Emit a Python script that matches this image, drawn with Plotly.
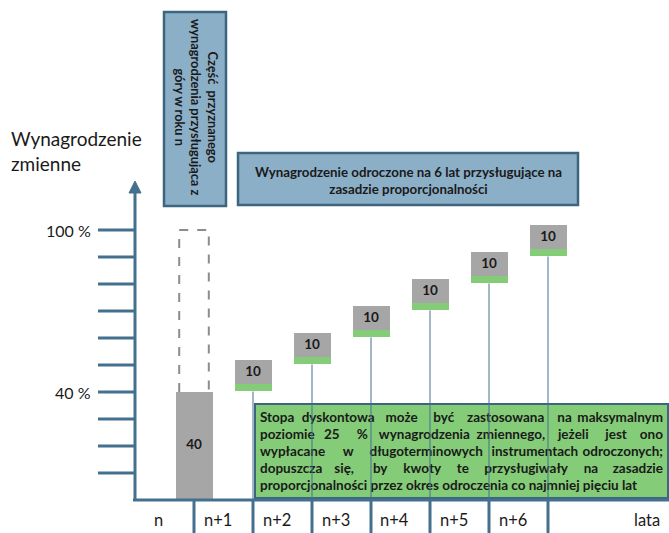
import plotly.graph_objects as go

# ---------------- data ----------------
years = ["n", "n+1", "n+2", "n+3", "n+4", "n+5", "n+6"]
initial_share = 40            # paid out up-front in year n
deferred_shares = [10, 10, 10, 10, 10, 10]   # deferred parts n+1 .. n+6
total_share = 100
tick_values = [10, 20, 30, 40, 50, 60, 70, 80, 90, 100]
tick_labels = {100: "100 %", 40: "40 %"}
axis_title = ["Wynagrodzenie", "zmienne"]
x_end_label = "lata"
upfront_box_lines = ["Część  przyznanego", "wynagrodzenia przysługująca z", "góry w roku n"]
deferred_box_lines = ["Wynagrodzenie odroczone na 6 lat przysługujące na", "zasadzie proporcjonalności"]
note_lines = [
    "Stopa dyskontowa może być zastosowana na maksymalnym",
    "poziomie 25 % wynagrodzenia zmiennego, jeżeli jest ono",
    "wypłacane w długoterminowych instrumentach odroczonych;",
    "dopuszcza się, by kwoty te przysługiwały na zasadzie",
    "proporcjonalności przez okres odroczenia co najmniej pięciu lat",
]

# ---------------- styling ----------------
W, H = 669, 533
AX = "#44708f"
BLUE_FILL = "#8cafc8"
BLUE_LINE = "#3e6580"
GREEN = "#84cc78"
GRAY = "#a6a6a6"
DASH = "#8c8c8c"
TXT = "#1a1a1a"
FONT = "Lato"

def X(px):  # pixel -> data x
    return (px - 135) / 59.0

def Y(py):  # pixel -> data y (percent)
    return (500 - py) / 2.7

XMIN, XMAX = X(0), X(W)
YMIN, YMAX = Y(H), Y(0)
BAR_W = 37 / 59.0

fig = go.Figure()
shapes = []
annotations = []

# --- bars ---
fig.add_trace(go.Bar(x=[1], y=[initial_share], base=[0], width=[BAR_W],
                     marker=dict(color=GRAY, line=dict(width=0)), hoverinfo="skip"))
cum = [initial_share]
for v in deferred_shares[:-1]:
    cum.append(cum[-1] + v)
xs_def = [i + 2 for i in range(len(deferred_shares))]
green_h = 2.6
fig.add_trace(go.Bar(x=xs_def, y=[green_h] * len(xs_def), base=[c + 0.2 for c in cum],
                     width=[BAR_W] * len(xs_def),
                     marker=dict(color=GREEN, line=dict(width=0)), hoverinfo="skip"))
gray_h = [v * 0.9 for v in deferred_shares]
gray_base = [c + 0.2 + green_h for c in cum]
fig.add_trace(go.Bar(x=xs_def, y=gray_h, base=gray_base, width=[BAR_W] * len(xs_def),
                     marker=dict(color=GRAY, line=dict(width=0)), hoverinfo="skip"))
# labels in boxes
fig.add_trace(go.Scatter(
    x=[1] + xs_def,
    y=[initial_share / 2] + [b + h / 2 for b, h in zip(gray_base, gray_h)],
    text=["<b>%d</b>" % initial_share] + ["<b>%d</b>" % v for v in deferred_shares],
    mode="text", textfont=dict(family=FONT, size=13.5, color=TXT), hoverinfo="skip"))

# --- dashed outline for the full 100 % ---
x0, x1 = 1 - BAR_W * 0.4, 1 + BAR_W * 0.4
shapes.append(dict(type="path", xref="x", yref="y", layer="below",
                   path=f"M {x0},{initial_share} L {x0},{total_share} L {x1},{total_share} L {x1},{initial_share}",
                   line=dict(color=DASH, width=2, dash="dash")))

# --- green note box ---
shapes.append(dict(type="rect", xref="x", yref="y", layer="below",
                   x0=X(255), x1=X(668), y0=Y(498), y1=Y(404),
                   fillcolor=GREEN, line=dict(color=BLUE_LINE, width=2)))

def cw(ch):
    if ch in "iljtfrI.,;:!'|":
        r = 0.30
    elif ch in "mwM%W":
        r = 0.84
    elif ch == " ":
        r = 0.26
    elif ch.isupper():
        r = 0.64
    elif ch.isdigit():
        r = 0.58
    else:
        r = 0.55
    return r * 0.81

NOTE_SIZE = 13.5
left_px, right_px = 260, 663
wx, wy, wt, wp = [], [], [], []
for li, line in enumerate(note_lines):
    py = 419 + li * 17
    words = line.split(" ")
    if li < len(note_lines) - 1:
        widths = [sum(cw(c) for c in w) * NOTE_SIZE for w in words]
        gap = (right_px - left_px - sum(widths)) / (len(words) - 1)
        pos = left_px
        for k, (w, wd) in enumerate(zip(words, widths)):
            if k == 0:
                wx.append(X(pos)); wp.append("middle right")
            elif k == len(words) - 1:
                wx.append(X(right_px)); wp.append("middle left")
            else:
                wx.append(X(pos + wd / 2)); wp.append("middle center")
            wy.append(Y(py)); wt.append("<b>%s</b>" % w)
            pos += wd + gap
    else:
        wx.append(X(left_px)); wy.append(Y(py)); wt.append("<b>%s</b>" % line); wp.append("middle right")
fig.add_trace(go.Scatter(x=wx, y=wy, text=wt, textposition=wp, mode="text",
                         textfont=dict(family=FONT, size=NOTE_SIZE, color=TXT), hoverinfo="skip"))

# --- pins from deferred boxes down to baseline ---
for xv, c in zip(xs_def, cum):
    shapes.append(dict(type="line", xref="x", yref="y", layer="above",
                       x0=xv, x1=xv, y0=0, y1=c + 0.2, line=dict(color=AX, width=1)))

# --- axes ---
shapes.append(dict(type="line", xref="x", yref="y", layer="above",
                   x0=X(133), x1=X(669), y0=0, y1=0, line=dict(color=AX, width=3)))
shapes.append(dict(type="line", xref="x", yref="y", layer="above",
                   x0=0, x1=0, y0=0, y1=Y(190), line=dict(color=AX, width=3)))
shapes.append(dict(type="path", xref="x", yref="y", layer="above",
                   path=f"M {X(129)},{Y(193)} L {X(135)},{Y(181)} L {X(141)},{Y(193)} Z",
                   fillcolor=AX, line=dict(color=AX, width=1)))
for tv in tick_values:
    shapes.append(dict(type="line", xref="x", yref="y", layer="above",
                       x0=X(98), x1=0, y0=tv, y1=tv, line=dict(color=AX, width=3)))
for tv, lab in tick_labels.items():
    annotations.append(dict(x=X(93), y=tv, xref="x", yref="y", text=lab, showarrow=False,
                            xanchor="right", yanchor="middle",
                            font=dict(family=FONT, size=16, color=TXT)))
# year separators under baseline
for i in range(1, len(years) + 1):
    shapes.append(dict(type="line", xref="x", yref="y", layer="above",
                       x0=i, x1=i, y0=0, y1=YMIN, line=dict(color=AX, width=3)))
for i, yl in enumerate(years):
    annotations.append(dict(x=i + 0.4, y=Y(520), xref="x", yref="y", text=yl, showarrow=False,
                            xanchor="center", yanchor="middle",
                            font=dict(family=FONT, size=16.5, color=TXT)))
annotations.append(dict(x=X(647), y=Y(520), xref="x", yref="y", text=x_end_label, showarrow=False,
                        xanchor="center", yanchor="middle",
                        font=dict(family=FONT, size=16.5, color=TXT)))
# axis title
annotations.append(dict(x=X(9), y=Y(151), xref="x", yref="y", text="<br>".join(axis_title),
                        showarrow=False, xanchor="left", yanchor="middle", align="left",
                        font=dict(family=FONT, size=19, color=TXT)))

# --- blue header boxes ---
shapes.append(dict(type="rect", xref="x", yref="y", layer="above",
                   x0=X(164), x1=X(226), y0=Y(206), y1=Y(12),
                   fillcolor=BLUE_FILL, line=dict(color=BLUE_LINE, width=2.5)))
annotations.append(dict(x=X(197), y=Y(107), xref="x", yref="y",
                        text="<br>".join("<b>%s</b>" % s for s in upfront_box_lines),
                        showarrow=False, textangle=90, align="center",
                        xanchor="center", yanchor="middle",
                        font=dict(family=FONT, size=12.8, color=TXT)))
shapes.append(dict(type="rect", xref="x", yref="y", layer="above",
                   x0=X(238), x1=X(578), y0=Y(205), y1=Y(153),
                   fillcolor=BLUE_FILL, line=dict(color=BLUE_LINE, width=2.5)))
annotations.append(dict(x=X(408), y=Y(180), xref="x", yref="y",
                        text="<br>".join("<b>%s</b>" % s for s in deferred_box_lines),
                        showarrow=False, align="center", xanchor="center", yanchor="middle",
                        font=dict(family=FONT, size=13.3, color=TXT)))

fig.update_layout(
    width=W, height=H, margin=dict(l=0, r=0, t=0, b=0),
    paper_bgcolor="white", plot_bgcolor="white",
    showlegend=False, barmode="overlay", bargap=0,
    xaxis=dict(range=[XMIN, XMAX], visible=False, fixedrange=True),
    yaxis=dict(range=[YMIN, YMAX], visible=False, fixedrange=True),
    shapes=shapes, annotations=annotations,
)
fig.write_html("out.html")
